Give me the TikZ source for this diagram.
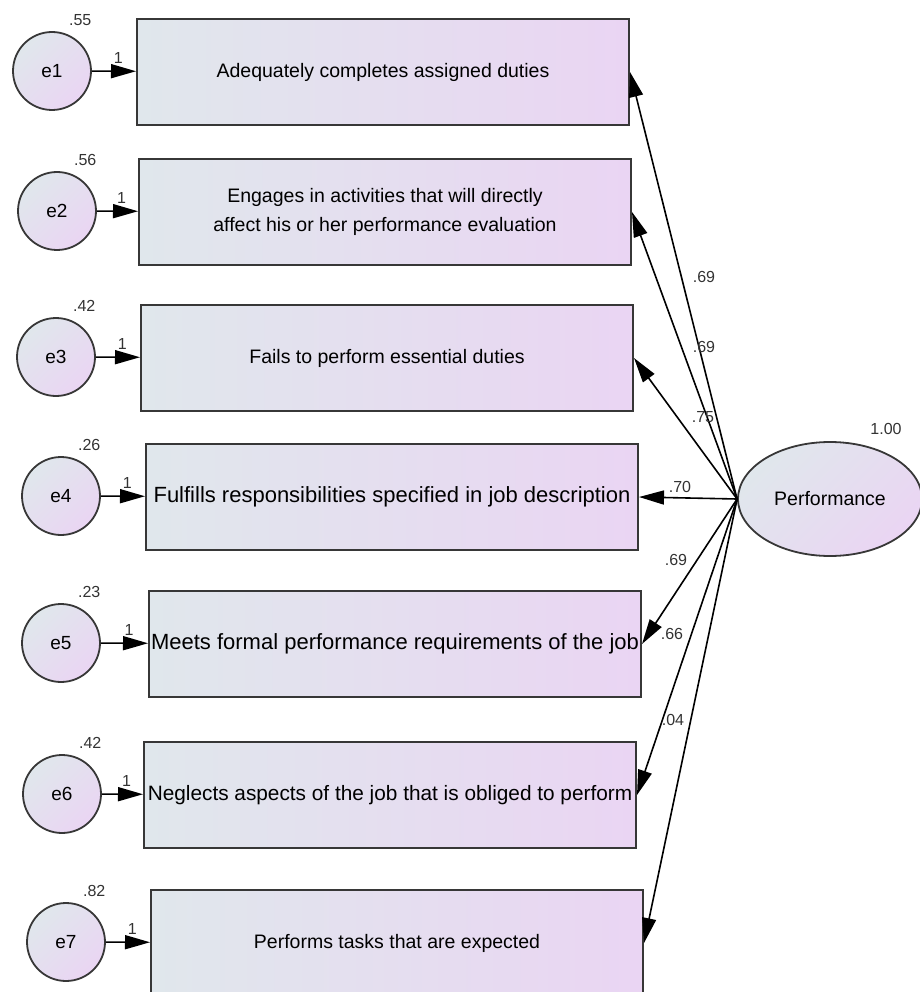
\documentclass[tikz,border=0pt]{standalone}
\usepackage{fontspec}
\setmainfont{Liberation Sans}
\usetikzlibrary{arrows.meta,shapes.geometric}
\definecolor{bluegray}{RGB}{224,231,236}
\definecolor{lavender}{RGB}{234,213,243}
\definecolor{edgegray}{RGB}{55,55,55}
\tikzset{ibox/.style={
    rectangle,
    draw=edgegray,
    line width=2pt,
    left color=bluegray,
    right color=lavender,
    align=center,
    anchor=north west,
    minimum width=492pt,
    minimum height=106pt,
    font=\fontsize{19.5}{29}\selectfont
  },
  wbox/.style={ibox,inner sep=0pt,font=\fontsize{22}{29}\selectfont},
  nbox/.style={ibox,inner sep=0pt,font=\fontsize{20.8}{29}\selectfont},
  ecirc/.style={circle,draw=edgegray,line width=1.8pt,
    left color=bluegray,right color=lavender,shading angle=45,
    minimum size=78pt,inner sep=0pt,font=\fontsize{19}{22}\selectfont},
  latent/.style={ellipse,draw=edgegray,line width=1.8pt,
    left color=bluegray,right color=lavender,shading angle=45,
    minimum width=184pt,minimum height=114pt,inner sep=0pt,
    font=\fontsize{19.5}{22}\selectfont},
  smalll/.style={inner sep=0pt,text=black!80,font=\fontsize{16}{18}\selectfont},
  coefl/.style={smalll},
  load/.style={line width=1.6pt,-{Triangle[length=25pt,width=14pt]}},
}
\begin{document}
\begin{tikzpicture}[x=1pt,y=-1pt]
  \useasboundingbox (0,0) rectangle (919,992);
  % indicators
  \node [ibox] (b1) at (136,18) {Adequately completes assigned duties};
  \node [ibox] (b2) at (138,158) {Engages in activities that will directly\\affect his or her performance evaluation};
  \node [ibox] (b3) at (140,304) {Fails to perform essential duties};
  \node [wbox] (b4) at (145,443) {Fulfills responsibilities specified in job description};
  \node [wbox] (b5) at (148,590) {Meets formal performance requirements of the job};
  \node [nbox] (b6) at (143,741) {Neglects aspects of the job that is obliged to perform};
  \node [ibox] (b7) at (150,889) {Performs tasks that are expected};
  % error terms
  \node [ecirc] (e1) at (52,71) {e1};
  \node [ecirc] (e2) at (57,211) {e2};
  \node [ecirc] (e3) at (56,357) {e3};
  \node [ecirc] (e4) at (61,496) {e4};
  \node [ecirc] (e5) at (61,643) {e5};
  \node [ecirc] (e6) at (62,794) {e6};
  \node [ecirc] (e7) at (66,942) {e7};
  \node [smalll,above=17pt] (v1) at (e1.north east) {.55};
  \node [smalll,above=17pt] (v2) at (e2.north east) {.56};
  \node [smalll,above=17pt] (v3) at (e3.north east) {.42};
  \node [smalll,above=17pt] (v4) at (e4.north east) {.26};
  \node [smalll,above=17pt] (v5) at (e5.north east) {.23};
  \node [smalll,above=17pt] (v6) at (e6.north east) {.42};
  \node [smalll,above=17pt] (v7) at (e7.north east) {.82};
  % latent factor
  \node [latent] (perf) at (830,499) {Performance};
  \node [smalll] (vperf) at (886,429) {1.00};
  \foreach \i in {1,...,7}{
    \draw[load] (e\i) -- node[smalll,pos=0.6,above=7pt] {1} (b\i);
    \draw[load] (perf.west) -- (b\i.east);
  }
  % loadings
  \node [coefl] (c1) at (704,277) {.69};
  \node [coefl] (c2) at (704,347) {.69};
  \node [coefl] (c3) at (703,417) {.75};
  \node [coefl] (c4) at (680,487) {.70};
  \node [coefl] (c5) at (676,560) {.69};
  \node [coefl] (c6) at (672,634) {.66};
  \node [coefl] (c7) at (673,720) {.04};
\end{tikzpicture}
\end{document}
